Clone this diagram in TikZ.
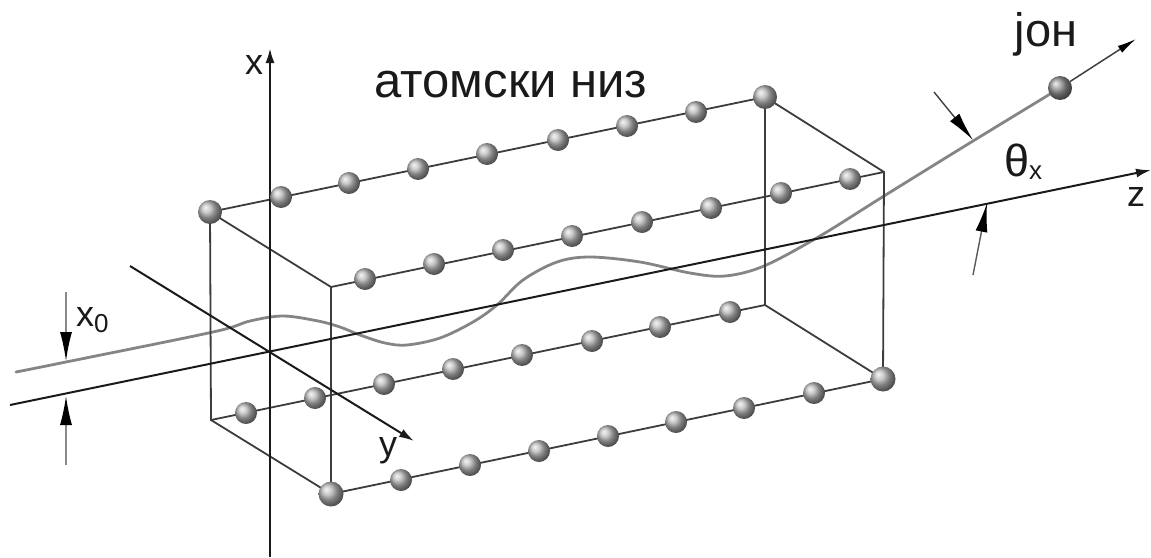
\documentclass[tikz,border=0pt]{standalone}
\usepackage{fontspec}
\setmainfont{Liberation Sans}
\usetikzlibrary{arrows.meta,shadings}
\definecolor{ink}{HTML}{1A1A1A}
\definecolor{boxc}{HTML}{3C3C3C}
\definecolor{ionc}{HTML}{858585}
\definecolor{thin}{HTML}{8A8A8A}
\tikzset{
  atom/.style={circle,minimum size=#1,inner sep=0pt,shading=ball,ball color=black!28},
  atom/.default=22pt,
  boxline/.style={draw=boxc,line width=1.8pt},
  axisline/.style={draw=ink,line width=2pt},
  ionline/.style={draw=ionc,line width=2.8pt,line cap=round},
  dimarrow/.style={draw=thin,line width=1.4pt,-{Latex[length=29pt,width=12pt,black]}},
  lab/.style={inner sep=0pt,text=ink,font=\fontsize{36}{40}\selectfont},
}
\begin{document}
\begin{tikzpicture}[x=1pt,y=-1pt]
\useasboundingbox (0,0) rectangle (1151,557);
% box corners
\coordinate (A) at (210,212); \coordinate (B) at (331,287);
\coordinate (C) at (211,420); \coordinate (D) at (331,494);
\coordinate (E) at (765,97);  \coordinate (F) at (884,172);
\coordinate (G) at (765,305); \coordinate (H) at (883,379);
% ion path
\coordinate (ionstart) at (16,372);
\coordinate (ionend) at (1136,39);
\coordinate (ionc) at (1060,88);
\draw[ionline] plot[smooth,tension=0.55] coordinates {(ionstart) (66,362) (213,332) (250,321) (283,316) (318,321) (340,327) (360,335) (385,343) (407,345) (440,338) (473,322) (497,305) (523,280) (557,262) (590,257) (640,262) (690,273) (725,276) (764,266) (820,236) (884,196) (973,141) (ionc)};
\node[atom=24pt,ball color=black!42] (ion) at (ionc) {};
\draw[draw=black!75,line width=1.5pt,-{Latex[length=19pt,width=8pt,black]}] (ion) -- (ionend);
% box
\draw[boxline] (A) -- (E) -- (F) -- (H) -- (D) -- (B) -- (F);
\draw[boxline] (A) -- (B);
\draw[boxline] (A) -- (C) -- (G) -- (H);
\draw[boxline] (C) -- (D);
\draw[boxline] (B) -- (D);
\draw[boxline] (E) -- (G);
% axes
\coordinate (xs) at (270,557); \coordinate (xe) at (270,48);
\coordinate (ys) at (130,266); \coordinate (ye) at (414,441);
\coordinate (zs) at (10,405);  \coordinate (ze) at (1151,170);
\draw[axisline,line width=2.4pt,-{Latex[length=15pt,width=9pt]}] (xs) -- (xe);
\draw[axisline,-{Latex[length=15pt,width=9pt]}] (ys) -- (ye);
\draw[axisline,-{Latex[length=15pt,width=9pt]}] (zs) -- (ze);
% atoms
\foreach \n/\p in {a2/{281,197},a3/{349,183},a4/{418,169},a5/{487,154},a6/{558,140},a7/{627,126},a8/{696,112}}
  \node[atom] (\n) at (\p) {};
\node[atom=24pt] (a9) at (765,97) {};
\node[atom=24pt] (a1) at (210,212) {};
\foreach \n/\p in {b1/{365,279},b2/{434,264},b3/{503,250},b4/{572,236},b5/{642,222},b6/{711,208},b7/{781,193},b8/{850,179}}
  \node[atom] (\n) at (\p) {};
\foreach \n/\p in {c1/{246,413},c2/{315,398},c3/{384,384},c4/{453,369},c5/{522,355},c6/{592,341},c7/{660,327},c8/{730,312}}
  \node[atom] (\n) at (\p) {};
\foreach \n/\p in {d1/{401,480},d2/{470,465},d3/{539,451},d4/{608,436},d5/{676,422},d6/{744,408},d7/{814,393}}
  \node[atom] (\n) at (\p) {};
\node[atom=25pt] (d0) at (331,494) {};
\node[atom=25pt] (d8) at (883,379) {};
% dimension arrows
\coordinate (p1) at (66,292); \coordinate (q1) at (66,361);
\coordinate (p2) at (66,465); \coordinate (q2) at (66,396);
\coordinate (p3) at (934,92); \coordinate (q3) at (973,140);
\coordinate (p4) at (973,275); \coordinate (q4) at (987,203);
\draw[dimarrow] (p1) -- (q1);
\draw[dimarrow] (p2) -- (q2);
\draw[dimarrow,draw=black!75] (p3) -- (q3);
\draw[dimarrow,draw=black!65] (p4) -- (q4);
% labels
\node[lab] (lx) at (254,65) {x};
\node[lab] (ly) at (388,451) {y};
\node[lab] (lz) at (1136,197) {z};
\node[lab,anchor=base west] (lx0) at (76,326) {x\raisebox{-6pt}{\fontsize{26}{26}\selectfont 0}};
\node[lab,anchor=base west,font=\fontsize{45}{48}\selectfont] (lt) at (1004,176) {θ\raisebox{-3pt}{\fontsize{26}{26}\selectfont x}};
\node[lab,anchor=base,font=\fontsize{47}{50}\selectfont] (lion) at (1046,46) {јон};
\node[lab,anchor=base,font=\fontsize{49}{52}\selectfont] (lniz) at (511,97) {атомски низ};
\end{tikzpicture}
\end{document}
